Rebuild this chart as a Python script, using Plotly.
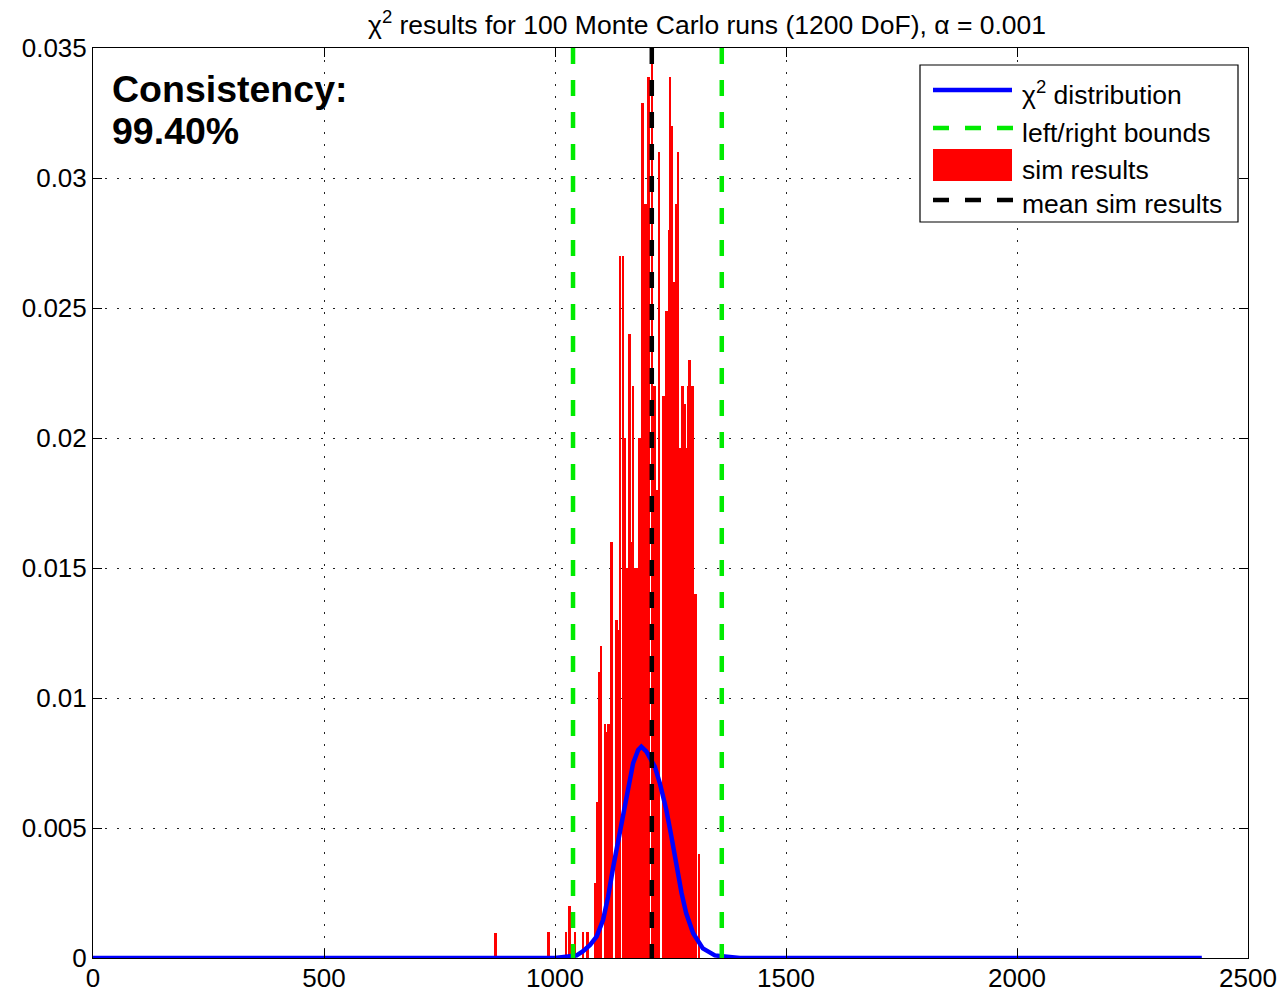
import plotly.graph_objects as go

# ---- simulated chi-square histogram (normalised), bin edges in chi^2 units ----
bin_left = [868.0, 983.0, 1022.7, 1028.0, 1042.0, 1059.4, 1067.0,
            1084.2, 1090.0, 1093.5, 1097.8, 1105.2, 1110.1, 1112.3, 1118.1,
            1128.9, 1135.4, 1140.4, 1146.2, 1148.4, 1153.3, 1157.7, 1166.3,
            1168.5, 1170.6, 1181.4, 1185.7, 1192.2, 1198.7, 1208.4, 1210.6,
            1218.1, 1224.6, 1231.1, 1237.6, 1244.0, 1248.4, 1250.5, 1254.8,
            1261.3, 1265.6, 1270.0, 1272.1, 1278.6, 1282.9, 1287.2, 1289.4,
            1293.7, 1300.2, 1309.9]
bin_right = [875.0, 989.0, 1024.8, 1034.5, 1044.3, 1061.5, 1073.4,
             1090.0, 1093.5, 1097.8, 1102.1, 1110.1, 1112.3, 1118.1, 1125.3,
             1135.4, 1140.4, 1142.5, 1148.4, 1153.3, 1157.7, 1164.1, 1168.5,
             1170.6, 1181.4, 1185.7, 1192.2, 1198.7, 1205.2, 1210.6, 1218.1,
             1224.6, 1226.8, 1237.6, 1244.0, 1248.4, 1250.5, 1254.8, 1261.3,
             1265.6, 1267.8, 1272.1, 1278.6, 1282.9, 1287.2, 1289.4, 1293.7,
             1300.2, 1306.7, 1312.1]
sim_density = [0.00096, 0.0010, 0.0010, 0.0020, 0.0010, 0.0010, 0.0010,
               0.0029, 0.0060, 0.0110, 0.0120, 0.0090, 0.0087, 0.0090, 0.0160,
               0.0130, 0.0126, 0.0270, 0.0270, 0.0200, 0.0150, 0.0240, 0.0160,
               0.0220, 0.0150, 0.0200, 0.0329, 0.0290, 0.0339, 0.0360, 0.0220,
               0.0180, 0.0310, 0.0216, 0.0249, 0.0280, 0.0339, 0.0320, 0.0260,
               0.0290, 0.0310, 0.0196, 0.0220, 0.0213, 0.0196, 0.0220, 0.0230,
               0.0220, 0.0140, 0.0040]

# ---- theoretical chi^2 pdf (1200 DoF) ----
chi2_x = [0, 1000, 1047, 1060, 1076, 1090, 1104, 1115, 1126, 1137, 1148,
          1158, 1169, 1180, 1187, 1198, 1216, 1227, 1241, 1252, 1263, 1274,
          1284, 1299, 1320, 1346, 1400, 2400]
chi2_pdf = [0, 0, 0.0001, 0.00025, 0.0005, 0.00082, 0.00146, 0.00236,
            0.0035, 0.00454, 0.00543, 0.00659, 0.00749, 0.0080, 0.00813,
            0.00794, 0.00736, 0.00672, 0.00569, 0.00467, 0.00351, 0.00249,
            0.00172, 0.00095, 0.00037, 0.0001, 0, 0]

# ---- acceptance bounds and sample mean ----
bound_left = 1039
bound_right = 1361
mean_sim = 1209.5
consistency = "99.40%"

x_ticks = [0, 500, 1000, 1500, 2000, 2500]
y_ticks = [0, 0.005, 0.01, 0.015, 0.02, 0.025, 0.03, 0.035]
y_top = 0.035

FONT = "Liberation Sans, Arial, Helvetica, sans-serif"
RED = "rgb(255,0,0)"
BLUE = "rgb(0,0,255)"
GREEN = "rgb(0,235,0)"
DASH = "16px,16px"

centers = [(a + b) / 2 for a, b in zip(bin_left, bin_right)]
widths = [b - a for a, b in zip(bin_left, bin_right)]

fig = go.Figure()

fig.add_trace(go.Bar(
    x=centers, y=sim_density, width=widths,
    marker=dict(color=RED, line=dict(width=0)),
    name="sim results", showlegend=False,
))

fig.add_trace(go.Scatter(
    x=chi2_x, y=chi2_pdf, mode="lines",
    line=dict(color=BLUE, width=4.5),
    name="χ<sup>2</sup> distribution", showlegend=False,
))

for xb in (bound_left, bound_right):
    fig.add_trace(go.Scatter(
        x=[xb, xb], y=[y_top, 0], mode="lines",
        line=dict(color=GREEN, width=4.5, dash=DASH),
        name="left/right bounds", showlegend=False,
    ))

fig.add_trace(go.Scatter(
    x=[mean_sim, mean_sim], y=[y_top, 0], mode="lines",
    line=dict(color="black", width=4.5, dash=DASH),
    name="mean sim results", showlegend=False,
))

# ---- hand-built legend box (paper coordinates) ----
L, R, T, B = 93, 1248, 48, 958
W, H = R - L, B - T


def px(xp):
    return (xp - L) / W


def py(yp):
    return (B - yp) / H


shapes = [
    dict(type="rect", xref="paper", yref="paper",
         x0=px(920), x1=px(1238), y0=py(222), y1=py(65),
         fillcolor="white", line=dict(color="black", width=1.2), layer="above"),
    dict(type="line", xref="paper", yref="paper",
         x0=px(933), x1=px(1012), y0=py(90), y1=py(90),
         line=dict(color=BLUE, width=4.5), layer="above"),
    dict(type="line", xref="paper", yref="paper",
         x0=px(933), x1=px(1013), y0=py(128), y1=py(128),
         line=dict(color=GREEN, width=4.5, dash=DASH), layer="above"),
    dict(type="rect", xref="paper", yref="paper",
         x0=px(933), x1=px(1012), y0=py(181), y1=py(149),
         fillcolor=RED, line=dict(width=0), layer="above"),
    dict(type="line", xref="paper", yref="paper",
         x0=px(933), x1=px(1013), y0=py(200), y1=py(200),
         line=dict(color="black", width=4.5, dash=DASH), layer="above"),
]

legend_rows = [
    ("χ<sup>2</sup> distribution", 93),
    ("left/right bounds", 133),
    ("sim results", 170),
    ("mean sim results", 204),
]
annotations = [
    dict(text=t, xref="paper", yref="paper", x=px(1020), y=py(yc),
         xanchor="left", yanchor="middle", showarrow=False,
         font=dict(family=FONT, size=26.5, color="black"))
    for t, yc in legend_rows
]

annotations += [
    dict(text="<b>Consistency:</b>", xref="paper", yref="paper",
         x=px(110), y=py(89), xanchor="left", yanchor="middle",
         showarrow=False, font=dict(family=FONT, size=37.5, color="black")),
    dict(text=f"<b>{consistency}</b>", xref="paper", yref="paper",
         x=px(110), y=py(131), xanchor="left", yanchor="middle",
         showarrow=False, font=dict(family=FONT, size=37.5, color="black")),
]

axis_common = dict(
    showline=True, linecolor="black", linewidth=1, mirror="allticks",
    ticks="inside", ticklen=9, tickwidth=1, tickcolor="black",
    showgrid=True, gridcolor="#222222", gridwidth=1, griddash="2px,10px",
    zeroline=False, automargin=False,
    tickfont=dict(family=FONT, size=26, color="black"),
)

fig.update_layout(
    width=1283, height=993,
    margin=dict(l=L, r=1283 - R, t=T, b=993 - B, autoexpand=False),
    paper_bgcolor="white", plot_bgcolor="white",
    barmode="overlay", bargap=0,
    showlegend=False,
    title=dict(
        text="χ<sup>2</sup> results for 100 Monte Carlo runs (1200 DoF), α = 0.001",
        x=px(707), xref="paper", xanchor="center",
        y=1 - 25 / 993, yref="container", yanchor="middle",
        font=dict(family=FONT, size=26.5, color="black"),
    ),
    xaxis=dict(range=[0, 2500], tickvals=x_ticks, ticklabelstandoff=-3,
               **axis_common),
    yaxis=dict(range=[0, y_top], tickvals=y_ticks, **axis_common),
    shapes=shapes,
    annotations=annotations,
)

fig.write_html("out.html")
